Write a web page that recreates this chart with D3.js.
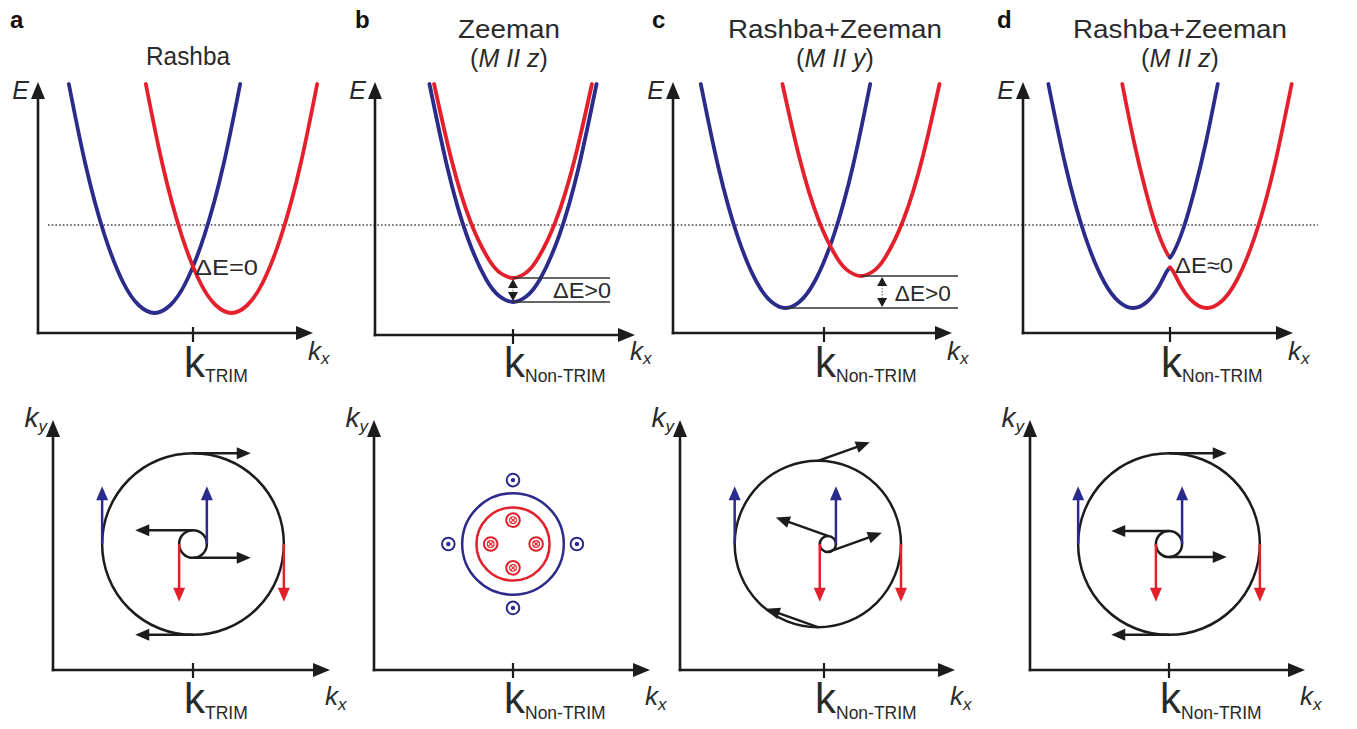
<!DOCTYPE html>
<html>
<head>
<meta charset="utf-8">
<script src="https://cdn.jsdelivr.net/npm/d3@7"></script>
<style>
  html, body { margin: 0; padding: 0; background: #fff; }
  svg { display: block; font-family: "Liberation Sans", Arial, sans-serif; }
</style>
</head>
<body>
<svg id="fig" width="1357" height="729"></svg>
<script>
// ---------------- data ----------------
// k in units of the Rashba wave vector, measured from the marked k point;
// E in arbitrary energy units above the bottom of the energy axis.
const panelLetters = ["a", "b", "c", "d"];
const titleLine1 = ["Rashba", "Zeeman", "Rashba+Zeeman", "Rashba+Zeeman"];
const titleAxis = [null, "z", "y", "z"];              // magnetisation direction (M II …)
const kPointLabel = ["TRIM", "Non-TRIM", "Non-TRIM", "Non-TRIM"];
const deltaLabels = ["\u0394E=0", "\u0394E>0", "\u0394E>0", "\u0394E\u22480"];
const deltaLabelAt = [[0.05, 2.32], [1.04, 1.40], [1.84, 1.28], [0.13, 2.40]];
const fermiLevel = 4.32;

// (a) Rashba: two spin branches shifted by ±k_R
const rashbaUp = [[-3.225, 9.96], [-2.8, 6.79], [-2.3, 3.93], [-1.8, 1.98], [-1.4, 1.10], [-1, 0.80],
                  [-0.6, 1.10], [-0.2, 1.98], [0.3, 3.93], [0.8, 6.79], [1.225, 9.96]];
const rashbaDown = [[-1.225, 9.96], [-0.8, 6.79], [-0.3, 3.93], [0.2, 1.98], [0.6, 1.10], [1, 0.80],
                    [1.4, 1.10], [1.8, 1.98], [2.3, 3.93], [2.8, 6.79], [3.225, 9.96]];
// (b) Zeeman, M II z: branches split in energy
const zeemanUp = [[-2.17, 9.96], [-1.7, 6.59], [-1.2, 3.90], [-0.7, 2.15], [-0.35, 1.47], [0, 1.24],
                  [0.35, 1.47], [0.7, 2.15], [1.2, 3.90], [1.7, 6.59], [2.17, 9.96]];
const zeemanDown = [[-2.05, 9.96], [-1.6, 6.94], [-1.1, 4.44], [-0.6, 2.87], [-0.3, 2.37], [0, 2.20],
                    [0.3, 2.37], [0.6, 2.87], [1.1, 4.44], [1.6, 6.94], [2.05, 9.96]];
// (c) Rashba + Zeeman, M II y
const rzyUp = [[-3.2, 9.96], [-2.75, 6.67], [-2.25, 3.89], [-1.75, 2.04], [-1.35, 1.23], [-1, 1.00],
               [-0.65, 1.23], [-0.25, 2.04], [0.25, 3.89], [0.75, 6.67], [1.2, 9.96]];
const rzyDown = [[-1.08, 9.96], [-0.64, 7.02], [-0.14, 4.52], [0.36, 2.95], [0.66, 2.45], [0.96, 2.28],
                 [1.26, 2.45], [1.56, 2.95], [2.06, 4.52], [2.56, 7.02], [3.0, 9.96]];
// (d) Rashba + Zeeman, M II z: a small gap opens where the branches meet
const rzzLowerUp = [[-3.16, 9.96], [-2.71, 6.67], [-2.21, 3.89], [-1.71, 2.04], [-1.31, 1.23], [-0.96, 1.00],
                    [-0.61, 1.23], [-0.3, 1.83], [-0.1, 2.42], [0, 2.62]];
const rzzLowerDown = [[0, 2.62], [0.1, 2.42], [0.3, 1.83], [0.61, 1.23], [0.96, 1.00], [1.31, 1.23],
                      [1.71, 2.04], [2.21, 3.89], [2.71, 6.67], [3.16, 9.96]];
const rzzUpperDown = [[-1.24, 9.96], [-0.94, 7.68], [-0.64, 5.74], [-0.34, 4.15], [-0.1, 3.25], [0, 3.02]];
const rzzUpperUp = [[0, 3.02], [0.1, 3.25], [0.34, 4.15], [0.64, 5.74], [0.94, 7.68], [1.24, 9.96]];

const topBands = [
  [["up", rashbaUp], ["down", rashbaDown]],
  [["down", zeemanDown], ["up", zeemanUp]],
  [["up", rzyUp], ["down", rzyDown]],
  [["up", rzzLowerUp], ["down", rzzLowerDown], ["down", rzzUpperDown], ["up", rzzUpperUp]]
];

// energy splitting marks: [k of lower minimum, E lower, k of upper minimum, E upper, k of double arrow, k where guide lines end]
const splitMarks = [null, [0, 1.24, 0, 2.20, 0, 2.52], [-1, 1.00, 0.96, 2.28, 1.51, 3.48], null];

// Fermi contours: [centre kx, centre ky, radius, spin]
const contours = [
  [[0, 0, 2.36, "in"], [0, 0, 0.36, "in"]],
  [[0, 0, 1.32, "up"], [0, 0, 0.95, "down"]],
  [[-0.16, 0, 2.16, "in"], [0.10, 0, 0.21, "in"]],
  [[0, 0, 2.36, "in"], [0, 0, 0.34, "in"]]
];
// spin vectors on the contours: [kx, ky, skx, sky, spin]
const spinArrows = [
  [[0, 2.36, 1.5, 0, "in"], [0, -2.36, -1.5, 0, "in"], [-2.36, 0, 0, 1.5, "up"], [2.36, 0, 0, -1.5, "down"],
   [0, 0.36, -1.5, 0, "in"], [0, -0.36, 1.5, 0, "in"], [0.36, 0, 0, 1.5, "up"], [-0.36, 0, 0, -1.5, "down"]],
  [],
  [[-0.16, 2.16, 1.35, 0.48, "in"], [-0.16, -2.16, -1.35, 0.48, "in"], [-2.32, 0, 0, 1.5, "up"], [2.0, 0, 0, -1.5, "down"],
   [0.10, 0.21, -1.35, 0.48, "in"], [0.10, -0.21, 1.4, 0.5, "in"], [0.31, 0, 0, 1.5, "up"], [-0.11, 0, 0, -1.5, "down"]],
  [[0, 2.36, 1.5, 0, "in"], [0, -2.36, -1.5, 0, "in"], [-2.36, 0, 0, 1.5, "up"], [2.36, 0, 0, -1.5, "down"],
   [0, 0.34, -1.5, 0, "in"], [0, -0.34, 1.5, 0, "in"], [0.34, 0, 0, 1.5, "up"], [-0.34, 0, 0, -1.5, "down"]]
];
// out-of-plane spins for the Zeeman case: [kx, ky, spin]
const outOfPlane = [[0, 1.66, "up"], [0, -1.66, "up"], [-1.68, 0, "up"], [1.66, 0, "up"],
                    [0, 0.62, "down"], [0, -0.62, "down"], [-0.58, 0, "down"], [0.60, 0, "down"]];

// ---------------- layout ----------------
const KUNIT = 38.5, EUNIT = 25;
const topTick = [193, 513, 824, 1170], topOrigin = [38, 375, 673, 1023], topTip = [313, 635, 952, 1293];
const topAxisY = [333, 335, 333, 333], topTipY = 82, eZeroY = 333;
const botTick = [193, 513, 824, 1169], botOrigin = [53, 374, 680, 1030], botTip = [330, 650, 955, 1305];
const botAxisY = 670, botTipY = 420, botCentreY = 544;
const letterX = [10, 355, 652, 997];
const titleX = [188, 509, 835, 1180];
const titleWidth = [84, 102, 214, 214];
const deltaWidth = [63, 58, 56, 58];

const BLUE = "#2b2b8c", RED = "#e3202b", INK = "#1c1c1c", TEXT = "#2a2a2a";
const spinColor = { up: BLUE, down: RED, in: INK };

const svg = d3.select("#fig");

function head(g, x, y, ang, len, wid, color) {
  const ux = Math.cos(ang), uy = Math.sin(ang);
  const bx = x - ux * len, by = y - uy * len;
  const px = -uy * wid / 2, py = ux * wid / 2;
  g.append("path")
    .attr("d", `M${x},${y}L${bx + px},${by + py}L${bx - px},${by - py}Z`)
    .attr("fill", color);
}
function arrow(g, x1, y1, x2, y2, color, sw, len, wid) {
  const ang = Math.atan2(y2 - y1, x2 - x1);
  const ex = x2 - Math.cos(ang) * len * 0.8, ey = y2 - Math.sin(ang) * len * 0.8;
  g.append("line").attr("x1", x1).attr("y1", y1).attr("x2", ex).attr("y2", ey)
    .attr("stroke", color).attr("stroke-width", sw);
  head(g, x2, y2, ang, len, wid, color);
}
function axes(g, ox, oy, tipX, tipY) {
  arrow(g, ox, oy + 1.3, ox, tipY, INK, 2.6, 17, 14);
  arrow(g, ox - 1.3, oy, tipX, oy, INK, 2.6, 17, 14);
}
function kLabel(g, x, y, sub, size, subSize, dy, italic, anchor) {
  const t = g.append("text").attr("x", x).attr("y", y).attr("fill", TEXT)
    .attr("text-anchor", anchor || "start")
    .attr("font-size", size).attr("font-style", italic ? "italic" : "normal").text("k");
  t.append("tspan").attr("font-size", subSize).attr("dy", dy).text(sub);
  return t;
}

// Fermi level across all panels
const eScale = d3.scaleLinear().domain([0, 1]).range([eZeroY, eZeroY - EUNIT]);
svg.append("line")
  .attr("x1", 48).attr("x2", 1318)
  .attr("y1", eScale(fermiLevel)).attr("y2", eScale(fermiLevel))
  .attr("stroke", "#444").attr("stroke-width", 1.6).attr("stroke-dasharray", "1.6,2.1");

panelLetters.forEach((letter, i) => {
  const g = svg.append("g");

  // ---- headings ----
  g.append("text").attr("x", letterX[i]).attr("y", 28).attr("font-size", 24)
    .attr("font-weight", "bold").attr("fill", "#111").text(letter);
  const single = titleAxis[i] === null;
  g.append("text").attr("x", titleX[i] - titleWidth[i] / 2).attr("y", single ? 65 : 38)
    .attr("font-size", 25).attr("fill", TEXT)
    .attr("textLength", titleWidth[i]).attr("lengthAdjust", "spacingAndGlyphs")
    .text(titleLine1[i]);
  if (!single) {
    const t2 = g.append("text").attr("x", titleX[i]).attr("y", 67).attr("font-size", 25)
      .attr("fill", TEXT).attr("text-anchor", "middle");
    t2.append("tspan").text("(");
    t2.append("tspan").attr("font-style", "italic").text("M II " + titleAxis[i]);
    t2.append("tspan").text(")");
  }

  // ---- dispersion E(k_x) ----
  const x = d3.scaleLinear().domain([0, 1]).range([topTick[i], topTick[i] + KUNIT]);
  const y = eScale;
  axes(g, topOrigin[i], topAxisY[i], topTip[i], topTipY);
  g.append("line").attr("x1", topTick[i]).attr("x2", topTick[i])
    .attr("y1", topAxisY[i] - 6).attr("y2", topAxisY[i] + 9)
    .attr("stroke", INK).attr("stroke-width", 2.2);
  g.append("text").attr("x", topOrigin[i] - 9).attr("y", 99).attr("text-anchor", "end")
    .attr("font-size", 25).attr("font-style", "italic").attr("fill", TEXT).text("E");
  kLabel(g, topTip[i] - 5, 360, "x", 26, 17, 4, true);
  kLabel(g, topTick[i] - 9, 377, kPointLabel[i], 42, 17.5, 5, false);

  const bandLine = d3.line().x(d => x(d[0])).y(d => y(d[1])).curve(d3.curveNatural);
  topBands[i].forEach(([spin, pts]) => {
    g.append("path").attr("d", bandLine(pts)).attr("fill", "none")
      .attr("stroke", spinColor[spin]).attr("stroke-width", 3.8).attr("stroke-linecap", "round");
  });

  const m = splitMarks[i];
  if (m) {
    const [kLo, eLo, kHi, eHi, kArr, kEnd] = m;
    g.append("line").attr("x1", x(kLo)).attr("x2", x(kEnd)).attr("y1", y(eLo)).attr("y2", y(eLo))
      .attr("stroke", "#333").attr("stroke-width", 1.3);
    g.append("line").attr("x1", x(kHi)).attr("x2", x(kEnd)).attr("y1", y(eHi)).attr("y2", y(eHi))
      .attr("stroke", "#333").attr("stroke-width", 1.3);
    g.append("line").attr("x1", x(kArr)).attr("x2", x(kArr)).attr("y1", y(eHi) + 6).attr("y2", y(eLo) - 6)
      .attr("stroke", "#777").attr("stroke-width", 1.2).attr("stroke-dasharray", "1.5,1.5");
    head(g, x(kArr), y(eHi) + 1, -Math.PI / 2, 9, 10, INK);
    head(g, x(kArr), y(eLo) - 1, Math.PI / 2, 9, 10, INK);
  }
  g.append("text").attr("x", x(deltaLabelAt[i][0])).attr("y", y(deltaLabelAt[i][1]))
    .attr("font-size", 22).attr("fill", TEXT)
    .attr("textLength", deltaWidth[i]).attr("lengthAdjust", "spacingAndGlyphs")
    .text(deltaLabels[i]);

  // ---- Fermi contours in (k_x, k_y) ----
  const bx = d3.scaleLinear().domain([0, 1]).range([botTick[i], botTick[i] + KUNIT]);
  const by = d3.scaleLinear().domain([0, 1]).range([botCentreY, botCentreY - KUNIT]);
  axes(g, botOrigin[i], botAxisY, botTip[i], botTipY);
  g.append("line").attr("x1", botTick[i]).attr("x2", botTick[i])
    .attr("y1", botAxisY - 7).attr("y2", botAxisY + 8)
    .attr("stroke", INK).attr("stroke-width", 2.2);
  kLabel(g, botOrigin[i] - 6, 427, "y", 28, 17, 5, true, "end");
  kLabel(g, botTip[i] - 5, 705, "x", 26, 17, 5, true);
  kLabel(g, botTick[i] - 9, 713, kPointLabel[i], 42, 17.5, 6, false);

  contours[i].forEach(([cx, cy, r, spin]) => {
    g.append("circle").attr("cx", bx(cx)).attr("cy", by(cy)).attr("r", bx(r) - bx(0))
      .attr("fill", "none").attr("stroke", spinColor[spin]).attr("stroke-width", 2.5);
  });
  spinArrows[i].forEach(([kx, ky, sx, sy, spin]) => {
    arrow(g, bx(kx), by(ky), bx(kx + sx), by(ky + sy), spinColor[spin], 2.5, 14, 12);
  });
  if (i === 1) {
    outOfPlane.forEach(([kx, ky, spin]) => {
      const cx = bx(kx), cy = by(ky), c = spinColor[spin];
      if (spin === "up") {
        g.append("circle").attr("cx", cx).attr("cy", cy).attr("r", 6.3)
          .attr("fill", "none").attr("stroke", c).attr("stroke-width", 2);
        g.append("circle").attr("cx", cx).attr("cy", cy).attr("r", 2.2).attr("fill", c);
      } else {
        g.append("circle").attr("cx", cx).attr("cy", cy).attr("r", 6.8)
          .attr("fill", "none").attr("stroke", c).attr("stroke-width", 2);
        g.append("circle").attr("cx", cx).attr("cy", cy).attr("r", 3.4)
          .attr("fill", "none").attr("stroke", c).attr("stroke-width", 1.1);
        const d = 2.4;
        g.append("path").attr("d", `M${cx - d},${cy - d}L${cx + d},${cy + d}M${cx - d},${cy + d}L${cx + d},${cy - d}`)
          .attr("stroke", c).attr("stroke-width", 1.1);
      }
    });
  }
});
</script>
</body>
</html>
